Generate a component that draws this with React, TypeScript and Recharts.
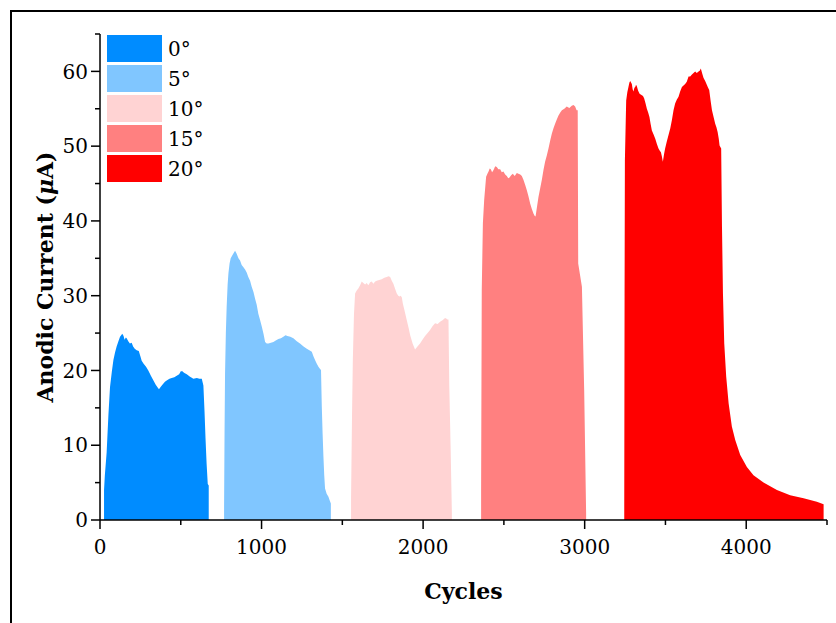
import React from 'react';
import { ComposedChart, Area, XAxis, YAxis, Legend } from 'recharts';

// angle labels and fill colours, one per run
const angleLabels = ['0°', '5°', '10°', '15°', '20°'];
const angleColors = ['#008cff', '#80c6ff', '#ffd3d3', '#ff8080', '#ff0000'];

// 0° run
const cycles0 = [25, 30, 41, 52, 62, 73, 83, 93, 103, 114, 124, 131, 138, 146, 152, 160, 165, 175, 185, 196, 205, 215, 227, 240, 250, 258, 270, 285, 299, 315, 330, 345, 358, 365, 375, 390, 402, 415, 430, 444, 460, 475, 490, 500, 510, 520, 537, 555, 578, 600, 615, 630, 640, 647, 653, 660, 667, 673];
const current0 = [4.0, 6.0, 9.0, 14.0, 17.8, 19.8, 21.4, 22.4, 23.2, 23.9, 24.5, 24.7, 24.9, 24.6, 24.1, 24.4, 24.3, 23.9, 23.6, 23.7, 23.2, 22.9, 22.7, 22.6, 21.9, 21.3, 20.9, 20.5, 20.0, 19.3, 18.7, 18.1, 17.7, 17.5, 17.8, 18.2, 18.5, 18.7, 18.9, 19.0, 19.1, 19.3, 19.5, 19.9, 19.9, 19.7, 19.5, 19.2, 18.9, 19.0, 18.9, 18.9, 18.0, 14.5, 11.0, 7.5, 4.8, 4.6];

// 5° run
const cycles5 = [768, 771, 774, 779, 784, 790, 795, 802, 809, 822, 836, 846, 857, 867, 877, 888, 898, 908, 918, 929, 939, 950, 960, 970, 980, 990, 1001, 1012, 1022, 1032, 1042, 1058, 1073, 1088, 1104, 1120, 1135, 1148, 1160, 1178, 1197, 1218, 1238, 1260, 1280, 1296, 1311, 1321, 1331, 1342, 1352, 1362, 1368, 1373, 1378, 1383, 1388, 1393, 1403, 1414, 1422, 1429];
const current5 = [1.8, 12.0, 19.6, 25.0, 28.5, 31.5, 33.0, 34.3, 35.0, 35.5, 36.0, 35.6, 35.0, 34.7, 34.1, 33.8, 33.5, 33.1, 32.5, 32.0, 31.2, 30.5, 29.6, 28.8, 27.6, 26.8, 25.9, 24.9, 23.8, 23.6, 23.6, 23.7, 23.8, 24.0, 24.2, 24.3, 24.5, 24.7, 24.6, 24.5, 24.3, 23.9, 23.6, 23.2, 22.9, 22.7, 22.5, 21.9, 21.4, 20.9, 20.5, 20.2, 20.05, 15.1, 11.5, 8.5, 6.0, 4.2, 3.5, 3.1, 2.6, 2.2];

// 10° run
const cycles10 = [1554, 1560, 1565, 1572, 1579, 1589, 1600, 1610, 1620, 1630, 1641, 1651, 1661, 1672, 1682, 1692, 1703, 1713, 1728, 1744, 1760, 1775, 1786, 1796, 1806, 1816, 1827, 1837, 1846, 1854, 1861, 1868, 1875, 1882, 1899, 1910, 1920, 1935, 1950, 1965, 1981, 1996, 2012, 2028, 2043, 2058, 2074, 2090, 2105, 2120, 2136, 2145, 2151, 2157, 2162, 2170, 2178];
const current10 = [3.0, 14.0, 21.4, 27.5, 30.3, 30.7, 31.0, 31.4, 31.9, 31.7, 31.5, 31.7, 31.4, 31.8, 31.9, 31.6, 31.9, 32.0, 32.1, 32.2, 32.4, 32.5, 32.6, 32.5, 32.0, 31.6, 30.9, 30.3, 30.0, 29.9, 30.0, 29.8, 28.9, 28.3, 26.7, 25.7, 24.7, 23.6, 22.8, 23.2, 23.6, 24.1, 24.6, 25.0, 25.4, 25.9, 26.3, 26.2, 26.5, 26.7, 27.0, 26.9, 26.8, 26.8, 18.0, 10.0, 1.0];

// 15° run
const cycles15 = [2359, 2363, 2370, 2378, 2390, 2398, 2405, 2412, 2419, 2427, 2436, 2446, 2456, 2466, 2477, 2487, 2497, 2508, 2518, 2527, 2535, 2545, 2555, 2567, 2580, 2590, 2601, 2611, 2621, 2632, 2642, 2652, 2663, 2673, 2683, 2690, 2696, 2705, 2714, 2725, 2735, 2745, 2755, 2766, 2776, 2787, 2797, 2807, 2817, 2828, 2838, 2849, 2859, 2874, 2889, 2905, 2920, 2931, 2941, 2950, 2957, 2960, 2983, 2997, 3009];
const current15 = [4.0, 30.7, 39.7, 42.8, 45.9, 46.3, 46.6, 47.0, 46.9, 46.5, 46.8, 47.3, 47.2, 46.9, 46.9, 46.5, 46.6, 46.2, 46.0, 45.7, 45.8, 46.1, 46.3, 46.0, 46.4, 46.3, 46.2, 46.0, 45.5, 44.8, 44.1, 43.3, 42.3, 41.6, 41.0, 40.7, 40.6, 41.9, 43.2, 44.4, 45.5, 46.8, 47.9, 48.8, 49.7, 50.8, 51.7, 52.4, 53.0, 53.6, 54.1, 54.5, 54.8, 55.0, 55.3, 55.1, 55.4, 55.5, 55.3, 54.8, 54.8, 34.3, 31.2, 17.4, 0.9];

// 20° run
const cycles20 = [3245, 3247, 3249, 3257, 3264, 3271, 3277, 3282, 3287, 3292, 3297, 3302, 3308, 3313, 3318, 3323, 3331, 3340, 3347, 3354, 3361, 3368, 3377, 3385, 3393, 3401, 3408, 3416, 3426, 3437, 3447, 3457, 3465, 3472, 3478, 3484, 3491, 3498, 3508, 3519, 3530, 3540, 3550, 3560, 3570, 3581, 3591, 3602, 3612, 3622, 3632, 3643, 3653, 3664, 3674, 3684, 3694, 3705, 3712, 3719, 3728, 3736, 3746, 3756, 3764, 3771, 3780, 3788, 3798, 3808, 3816, 3823, 3830, 3835, 3840, 3845, 3850, 3856, 3864, 3876, 3891, 3911, 3932, 3963, 4004, 4045, 4107, 4190, 4272, 4355, 4437, 4479];
const current20 = [2.0, 30.0, 48.1, 56.1, 57.2, 57.9, 58.5, 58.7, 58.5, 58.3, 57.6, 57.3, 57.8, 57.9, 58.2, 58.0, 57.4, 57.0, 56.9, 56.8, 56.7, 56.4, 55.7, 55.0, 54.5, 53.9, 53.0, 52.1, 51.6, 51.0, 50.3, 49.7, 49.4, 49.2, 48.6, 47.9, 48.9, 49.7, 50.6, 51.5, 52.4, 53.5, 54.8, 55.7, 56.2, 56.6, 57.3, 57.9, 58.1, 58.3, 58.6, 59.3, 59.3, 59.6, 59.8, 60.0, 59.8, 60.0, 60.1, 60.4, 59.7, 59.1, 58.7, 58.2, 57.8, 57.5, 56.0, 54.8, 53.9, 53.0, 52.5, 51.9, 51.0, 50.1, 49.9, 49.7, 39.2, 30.3, 23.6, 19.2, 15.6, 12.5, 10.7, 8.7, 7.1, 6.0, 5.0, 4.0, 3.3, 2.9, 2.45, 2.1];

const xTicks = [0, 500, 1000, 1500, 2000, 2500, 3000, 3500, 4000, 4500];
const yTicks = [0, 5, 10, 15, 20, 25, 30, 35, 40, 45, 50, 55, 60, 65];

const runs = [
  [cycles0, current0],
  [cycles5, current5],
  [cycles10, current10],
  [cycles15, current15],
  [cycles20, current20],
].map(([c, v]) => c.map((cycle, i) => ({ cycle, current: v[i] })));

const serif = '"DejaVu Serif", serif';

const YTick = (props: any) => {
  const { x, y, payload } = props;
  const major = payload.value % 10 === 0;
  return (
    <g>
      <line x1={x} x2={x - (major ? 9 : 5)} y1={y} y2={y} stroke="#000" strokeWidth={1.5} />
      {major && (
        <text x={x - 12} y={y} dy="0.36em" textAnchor="end" fontFamily={serif} fontSize={20} fill="#000">
          {payload.value}
        </text>
      )}
    </g>
  );
};

const XTick = (props: any) => {
  const { x, y, payload } = props;
  const major = payload.value % 1000 === 0;
  return (
    <g>
      <line x1={x} x2={x} y1={y} y2={y + (major ? 9 : 5)} stroke="#000" strokeWidth={1.5} />
      {major && (
        <text x={x} y={y + 34} textAnchor="middle" fontFamily={serif} fontSize={20} fill="#000">
          {payload.value}
        </text>
      )}
    </g>
  );
};

const YTitle = (props: any) => {
  const { viewBox } = props;
  const cx = viewBox.x + 53;
  const cy = viewBox.y + viewBox.height / 2;
  return (
    <text x={cx} y={cy} transform={`rotate(-90, ${cx}, ${cy})`} textAnchor="middle"
      fontFamily={serif} fontSize={22} fontWeight="bold" fill="#000">
      Anodic Current (<tspan fontStyle="italic">μ</tspan>A)
    </text>
  );
};

const XTitle = (props: any) => {
  const { viewBox } = props;
  return (
    <text x={viewBox.x + viewBox.width / 2} y={viewBox.y + 79} textAnchor="middle"
      fontFamily={serif} fontSize={22} fontWeight="bold" fill="#000">
      Cycles
    </text>
  );
};

const AngleLegend = () => (
  <div>
    {angleLabels.map((label, i) => (
      <div key={label} style={{ display: 'flex', alignItems: 'center', height: 27, marginBottom: 3 }}>
        <div style={{ width: 55, height: 27, background: angleColors[i] }} />
        <span style={{ marginLeft: 6, fontFamily: serif, fontSize: 20, color: '#000' }}>{label}</span>
      </div>
    ))}
  </div>
);

export default function App() {
  return (
    <div style={{ position: 'absolute', left: 0, top: 0, width: 836, height: 623, background: '#fff' }}>
      <div style={{ position: 'absolute', left: 10, top: 10, width: 826, height: 2, background: '#000' }} />
      <div style={{ position: 'absolute', left: 10, top: 10, width: 2, height: 613, background: '#000' }} />
      <ComposedChart width={836} height={623} margin={{ top: 34, right: 9, bottom: 0, left: 0 }}>
        <XAxis
          dataKey="cycle"
          type="number"
          domain={[0, 4500]}
          ticks={xTicks}
          interval={0}
          height={103}
          tickSize={0}
          tickMargin={0}
          tickLine={false}
          axisLine={{ stroke: '#000', strokeWidth: 1.5 }}
          tick={<XTick />}
          label={<XTitle />}
          allowDataOverflow
        />
        <YAxis
          type="number"
          domain={[0, 65]}
          ticks={yTicks}
          interval={0}
          width={100}
          tickSize={0}
          tickMargin={0}
          tickLine={false}
          axisLine={{ stroke: '#000', strokeWidth: 1.5 }}
          tick={<YTick />}
          label={<YTitle />}
          allowDataOverflow
        />
        <Legend
          layout="vertical"
          align="center"
          verticalAlign="middle"
          wrapperStyle={{ left: 107, top: 35 }}
          content={<AngleLegend />}
        />
        {runs.map((data, i) => (
          <Area
            key={angleLabels[i]}
            name={angleLabels[i]}
            data={data}
            dataKey="current"
            type="linear"
            fill={angleColors[i]}
            fillOpacity={1}
            stroke="none"
            dot={false}
            activeDot={false}
            isAnimationActive={false}
          />
        ))}
      </ComposedChart>
    </div>
  );
}
